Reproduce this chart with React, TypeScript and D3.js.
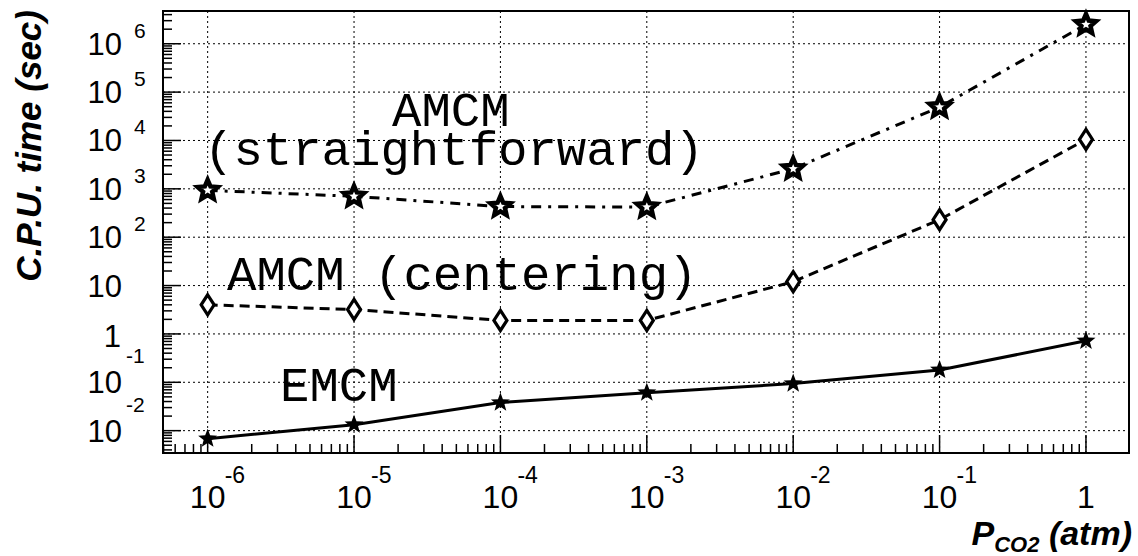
import React from "react";
import * as d3 from "d3";

// pressure values (atm)
const pressures = [1e-6, 1e-5, 1e-4, 1e-3, 1e-2, 1e-1, 1];

// CPU times (sec)
const emcm = [0.0068, 0.0133, 0.038, 0.061, 0.094, 0.18, 0.72];
const amcmCentering = [4.0, 3.2, 1.9, 1.9, 12, 230, 10500];
const amcmStraight = [930, 700, 430, 420, 2600, 49000, 2500000];

const yDecades = [-2, -1, 0, 1, 2, 3, 4, 5, 6];
const xDecades = [-6, -5, -4, -3, -2, -1, 0];

const W = 1138;
const H = 556;
const frame = { left: 163, right: 1129, top: 11, bottom: 453 };

function starPath(cx: number, cy: number, ro: number, ri: number) {
  const pts: [number, number][] = [];
  for (let i = 0; i < 10; i++) {
    const r = i % 2 === 0 ? ro : ri;
    const a = -Math.PI / 2 + (i * Math.PI) / 5;
    pts.push([cx + r * Math.cos(a), cy + r * Math.sin(a)]);
  }
  return "M" + pts.map((p) => p.join(",")).join("L") + "Z";
}

export default function App() {
  const x = d3
    .scaleLog()
    .domain([Math.pow(10, -6.305), Math.pow(10, 0.294)])
    .range([frame.left, frame.right]);
  const y = d3
    .scaleLog()
    .domain([Math.pow(10, -2.462), Math.pow(10, 6.677)])
    .range([frame.bottom, frame.top]);

  const line = d3
    .line<[number, number]>()
    .x((d) => x(d[0]))
    .y((d) => y(d[1]));

  const pts = (vals: number[]) =>
    pressures.map((p, i) => [p, vals[i]] as [number, number]);

  // minor ticks
  const yMinor: number[] = [];
  for (let n = -3; n <= 6; n++) {
    for (let k = 2; k <= 9; k++) {
      const py = y(k * Math.pow(10, n));
      if (py > frame.top && py < frame.bottom) yMinor.push(py);
    }
  }
  const xMinor: number[] = [];
  for (let n = -7; n <= 0; n++) {
    for (let k = 2; k <= 9; k++) {
      const px = x(k * Math.pow(10, n));
      if (px > frame.left && px < frame.right) xMinor.push(px);
    }
  }

  const sans = "'Liberation Sans', Arial, sans-serif";
  const mono = "'Liberation Mono', 'Courier New', monospace";

  return (
    <svg
      width={W}
      height={H}
      style={{ position: "absolute", left: 0, top: 0, background: "#fff" }}
    >
      {/* grid */}
      <g stroke="#000" strokeWidth={1} strokeDasharray="2,3">
        {yDecades.map((d) => (
          <line
            key={"gy" + d}
            x1={frame.left}
            x2={frame.right}
            y1={y(Math.pow(10, d))}
            y2={y(Math.pow(10, d))}
          />
        ))}
        {xDecades.map((d) => (
          <line
            key={"gx" + d}
            y1={frame.top}
            y2={frame.bottom}
            x1={x(Math.pow(10, d))}
            x2={x(Math.pow(10, d))}
          />
        ))}
      </g>

      {/* ticks */}
      <g stroke="#000" strokeWidth={1.5}>
        {yMinor.map((py, i) => (
          <line key={"ym" + i} x1={frame.left} x2={frame.left + 9} y1={py} y2={py} />
        ))}
        {yDecades.map((d) => (
          <line
            key={"yM" + d}
            x1={frame.left}
            x2={frame.left + 18}
            y1={y(Math.pow(10, d))}
            y2={y(Math.pow(10, d))}
          />
        ))}
        {xMinor.map((px, i) => (
          <line key={"xm" + i} y1={frame.bottom} y2={frame.bottom - 9} x1={px} x2={px} />
        ))}
        {xDecades.map((d) => (
          <line
            key={"xM" + d}
            y1={frame.bottom}
            y2={frame.bottom - 18}
            x1={x(Math.pow(10, d))}
            x2={x(Math.pow(10, d))}
          />
        ))}
      </g>

      {/* frame */}
      <rect
        x={frame.left}
        y={frame.top}
        width={frame.right - frame.left}
        height={frame.bottom - frame.top}
        fill="none"
        stroke="#000"
        strokeWidth={2}
      />

      {/* series lines */}
      <path d={line(pts(emcm)) || ""} fill="none" stroke="#000" strokeWidth={3} />
      <path
        d={line(pts(amcmCentering)) || ""}
        fill="none"
        stroke="#000"
        strokeWidth={3}
        strokeDasharray="10,6"
      />
      <path
        d={line(pts(amcmStraight)) || ""}
        fill="none"
        stroke="#000"
        strokeWidth={3}
        strokeDasharray="10,7,3,7"
      />

      {/* markers */}
      {pts(emcm).map((p, i) => (
        <path key={"e" + i} d={starPath(x(p[0]), y(p[1]), 10, 4.2)} fill="#000" />
      ))}
      {pts(amcmCentering).map((p, i) => {
        const cx = x(p[0]);
        const cy = y(p[1]);
        return (
          <path
            key={"c" + i}
            d={`M${cx},${cy - 10}L${cx + 6.5},${cy}L${cx},${cy + 10}L${cx - 6.5},${cy}Z`}
            fill="#fff"
            stroke="#000"
            strokeWidth={3.2}
          />
        );
      })}
      {pts(amcmStraight).map((p, i) => (
        <path
          key={"s" + i}
          d={starPath(x(p[0]), y(p[1]), 10.5, 4.8)}
          fill="#fff"
          stroke="#000"
          strokeWidth={4.5}
          strokeLinejoin="miter"
        />
      ))}

      {/* y tick labels */}
      <g fontFamily={sans} fill="#000">
        {yDecades.map((d) => {
          const gy = y(Math.pow(10, d));
          if (d === 0)
            return (
              <text key={"yl" + d} x={121} y={gy + 13} fontSize={31} textAnchor="end">
                1
              </text>
            );
          if (d === 1)
            return (
              <text key={"yl" + d} x={122} y={gy + 11} fontSize={31} textAnchor="end">
                10
              </text>
            );
          return (
            <g key={"yl" + d}>
              <text x={122} y={gy + 11} fontSize={31} textAnchor="end">
                10
              </text>
              <text x={d < 0 ? 126 : 134} y={d < 0 ? gy - 19 : gy - 6} fontSize={21}>
                {String(d)}
              </text>
            </g>
          );
        })}
      </g>

      {/* x tick labels */}
      <g fontFamily={sans} fill="#000">
        {xDecades.map((d) => {
          const px = x(Math.pow(10, d));
          if (d === 0)
            return (
              <text key={"xl" + d} x={px} y={508} fontSize={32} textAnchor="middle">
                1
              </text>
            );
          return (
            <g key={"xl" + d}>
              <text x={px} y={508} fontSize={32} textAnchor="middle">
                10
              </text>
              <text x={px + 17} y={483} fontSize={23}>
                {String(d)}
              </text>
            </g>
          );
        })}
      </g>

      {/* axis titles */}
      <text
        transform="translate(41,10) rotate(-90)"
        textAnchor="end"
        fontFamily={sans}
        fontWeight="bold"
        fontStyle="italic"
        fontSize={35}
      >
        C.P.U. time (sec)
      </text>
      <text
        x={1132}
        y={545}
        textAnchor="end"
        fontFamily={sans}
        fontWeight="bold"
        fontStyle="italic"
        fontSize={34}
      >
        P
        <tspan fontSize={22} dy={7}>
          CO2
        </tspan>
        <tspan dy={-7}> (atm)</tspan>
      </text>

      {/* series labels */}
      <g fontFamily={mono} fontSize={49} fill="#000">
        <text x={392} y={126}>
          AMCM
          <tspan x={204} y={165}>
            (straightforward)
          </tspan>
        </text>
        <text x={227} y={290}>
          AMCM (centering)
        </text>
        <text x={280} y={401}>
          EMCM
        </text>
      </g>
    </svg>
  );
}
